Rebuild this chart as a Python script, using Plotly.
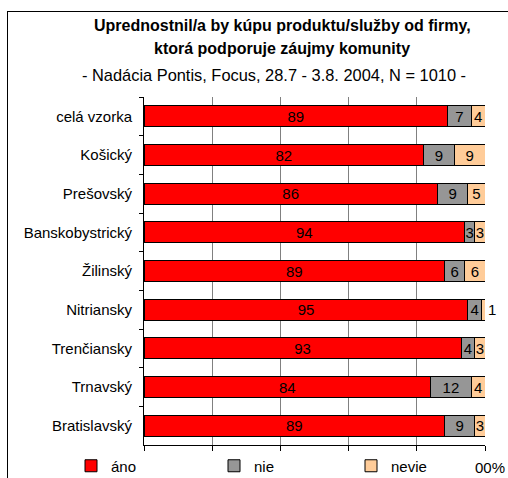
import plotly.graph_objects as go

categories = ["celá vzorka", "Košický", "Prešovský", "Banskobystrický", "Žilinský",
              "Nitriansky", "Trenčiansky", "Trnavský", "Bratislavský"]
ano = [89, 82, 86, 94, 89, 95, 93, 84, 89]
nie = [7, 9, 9, 3, 6, 4, 4, 12, 9]
nevie = [4, 9, 5, 3, 6, 1, 3, 4, 3]
series_names = ["áno", "nie", "nevie"]
colors = ["#FF0000", "#969696", "#FFCC99"]
title1 = "Upřednostnil/a by kúpu produktu/služby od firmy,".replace("ř", "r")
title2 = "ktorá podporuje záujmy komunity"
subtitle = "- Nadácia Pontis, Focus, 28.7 - 3.8. 2004, N = 1010 -"

FONT = "Liberation Sans, Arial, sans-serif"
L, R, T, B = 144, 23, 97, 33
W, H = 508, 478
pw, ph = W - L - R, H - T - B

def px(x):
    return (x - L) / pw

def py(y):
    return 1 - (y - T) / ph

legend_ids = ["legend", "legend2", "legend3"]
legend_x = [71, 214, 351]

fig = go.Figure()
for name, vals, col, lid in zip(series_names, [ano, nie, nevie], colors, legend_ids):
    if name == "nevie":
        pos = ["outside" if v <= 1 else "inside" for v in vals]
    else:
        pos = "inside"
    fig.add_trace(go.Bar(
        y=categories, x=vals, name=name, orientation="h", legend=lid,
        marker=dict(color=col, line=dict(color="#000000", width=1)),
        text=[str(v) for v in vals], textposition=pos, textangle=0,
        insidetextanchor="middle", constraintext="none",
        textfont=dict(family=FONT, size=15, color="#000000"),
        outsidetextfont=dict(family=FONT, size=15, color="#000000"),
        cliponaxis=False,
    ))

legend_common = dict(orientation="h", yanchor="middle", xanchor="left",
                     xref="container", yref="container",
                     font=dict(family=FONT, size=15), itemwidth=30,
                     bgcolor="rgba(0,0,0,0)", borderwidth=0)

fig.update_layout(
    width=W, height=H,
    margin=dict(l=L, r=R, t=T, b=B, pad=0, autoexpand=False),
    barmode="stack", barnorm="percent", bargap=0.45,
    paper_bgcolor="white", plot_bgcolor="white",
    font=dict(family=FONT, size=15, color="#000000"),
    uniformtext=dict(mode="show", minsize=15),
    showlegend=True,
    legend=dict(x=legend_x[0] / W, y=1 - 466 / H, **legend_common),
    legend2=dict(x=legend_x[1] / W, y=1 - 466 / H, **legend_common),
    legend3=dict(x=legend_x[2] / W, y=1 - 466 / H, **legend_common),
    xaxis=dict(range=[0, 100], showgrid=True, gridcolor="#808080", gridwidth=1,
               tickvals=[0, 20, 40, 60, 80, 100], showticklabels=False,
               ticks="outside", ticklen=5, tickcolor="#000000",
               showline=True, linecolor="#000000", linewidth=1, zeroline=False,
               fixedrange=True, automargin=False),
    yaxis=dict(autorange="reversed", showline=True, linecolor="#000000", linewidth=1,
               ticks="outside", ticklen=4, tickcolor="#000000", tickson="boundaries",
               ticklabelstandoff=8, showgrid=False, automargin=False,
               tickfont=dict(family=FONT, size=15)),
)

anns = [
    dict(text="<b>" + title1 + "</b>", x=px(282), y=py(25), size=16),
    dict(text="<b>" + title2 + "</b>", x=px(282), y=py(49), size=16),
    dict(text=subtitle, x=px(274), y=py(75), size=16.4),
    dict(text="00%", x=px(490), y=py(467), size=15),
]
for a in anns:
    size = a.pop("size")
    fig.add_annotation(xref="paper", yref="paper", showarrow=False, xanchor="center",
                       yanchor="middle", font=dict(family=FONT, size=size, color="#000000"),
                       **a)

# chart-area border (left and top edges visible within the window), as thin filled strips
fig.add_shape(type="rect", xref="paper", yref="paper", x0=px(7), x1=px(8),
              y0=py(11), y1=py(478), line=dict(width=0), fillcolor="#000000", layer="above")
fig.add_shape(type="rect", xref="paper", yref="paper", x0=px(7), x1=px(508),
              y0=py(11), y1=py(12), line=dict(width=0), fillcolor="#000000", layer="above")

fig.write_html("out.html", config={"displayModeBar": False},
               post_script="document.body.style.margin='0px';document.body.style.overflow='hidden';")
